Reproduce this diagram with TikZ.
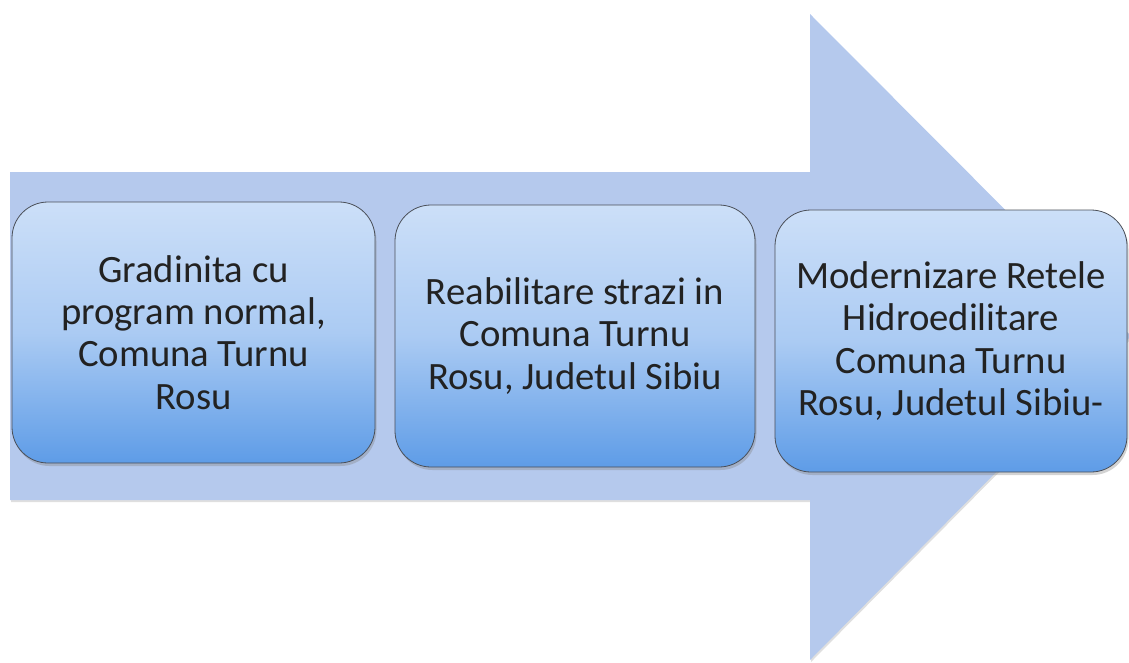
\documentclass[tikz,border=0pt]{standalone}
\usepackage{fontspec}
\setmainfont{Carlito}
\usetikzlibrary{shadows}
\definecolor{arrowblue}{HTML}{B5C9ED}
\definecolor{boxtop}{HTML}{CCDFF8}
\definecolor{boxbot}{HTML}{5E9CE7}
\definecolor{boxline}{HTML}{4A4F58}
\definecolor{txt}{HTML}{222222}
\tikzset{
  stagebox/.style={draw=boxline, line width=0.8pt, rounded corners=36pt,
    top color=boxtop, bottom color=boxbot, middle color=boxtop!70!boxbot,
    drop shadow={opacity=0.35, shadow xshift=1.5pt, shadow yshift=-3pt},
    align=center, text=txt, inner sep=0pt,
    font=\fontsize{38.7pt}{42.3pt}\selectfont},
  bigarrow/.style={fill=arrowblue, draw=none,
    drop shadow={opacity=0.25, shadow xshift=1pt, shadow yshift=-2pt}}
}
\begin{document}
\begin{tikzpicture}[x=1pt,y=-1pt]
\useasboundingbox (0,0) rectangle (1129,662);
% big process arrow
\path[bigarrow] (10,172) -- (810,172) -- (810,14) -- (1131,336) -- (810,660)
  -- (810,500) -- (10,500) -- cycle;
% stages
\node[stagebox, minimum width=363pt, minimum height=261pt] (b1) at (193.5,332.5)
  {Gradinita cu\\program normal,\\Comuna Turnu\\Rosu};
\node[stagebox, minimum width=360pt, minimum height=262pt] (b2) at (575,336)
  {Reabilitare strazi in\\Comuna Turnu\\Rosu, Judetul Sibiu};
\node[stagebox, minimum width=352pt, minimum height=262pt] (b3) at (951,341)
  {Modernizare Retele\\Hidroedilitare\\Comuna Turnu\\Rosu, Judetul Sibiu-};
\end{tikzpicture}
\end{document}
